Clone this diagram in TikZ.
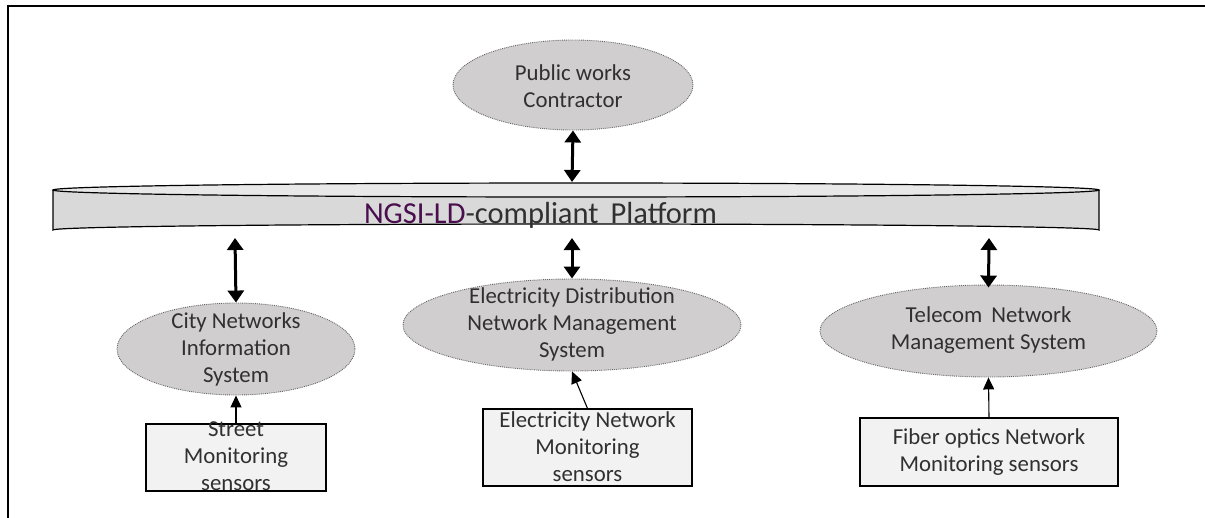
\documentclass[tikz,border=0pt]{standalone}
\usepackage{fontspec}
\setmainfont{Carlito}
\usetikzlibrary{arrows.meta,shapes.geometric}
\definecolor{ngsi}{HTML}{4A0E4E}
\definecolor{txtgray}{HTML}{303030}
\definecolor{ellfill}{HTML}{D0CECE}
\definecolor{boxfill}{HTML}{F2F2F2}
\definecolor{platside}{HTML}{D9D9D9}
\definecolor{plattop}{HTML}{E8E8E8}
\tikzset{
  x=1pt, y=-1pt,
  ellnode/.style={ellipse, fill=ellfill, draw=black!60, densely dotted, line width=0.9pt, inner sep=0pt},
  boxnode/.style={rectangle, fill=boxfill, draw=black, line width=1.1pt, inner sep=0pt},
  txt/.style={align=center, text=txtgray, font=\fontsize{22.8}{27}\selectfont, inner sep=0pt},
  dblarrow/.style={line width=3pt, {Triangle[width=16pt,length=12pt]}-{Triangle[width=16pt,length=12pt]}},
  sglarrow/.style={line width=1.1pt, -{Triangle[width=11pt,length=12pt]}},
}
\begin{document}
\begin{tikzpicture}
\useasboundingbox (0,0) rectangle (1205,517);
% frame
\draw[line width=1.6pt] (1206,6) -- (8,6) -- (8,518);
% platform cylinder
\path[fill=platside, draw=black, line width=1.2pt] (53,190) -- (53,230)
  arc[start angle=180, end angle=360, x radius=523, y radius=6] -- (1099,190);
\draw[fill=plattop, line width=1.2pt] (576,190) ellipse[x radius=523, y radius=7];
\node[anchor=base, inner sep=0pt, text=txtgray, font=\fontsize{30.5}{34}\selectfont] (plat) at (540.5,223)
  {\textcolor{ngsi}{NGSI-LD}-compliant\hspace{0.4em}Platform};
\coordinate (ptop) at (572,182);
\coordinate (pb1) at (235,238);
\coordinate (pb2) at (572,238);
\coordinate (pb3) at (989,238);
% ellipses
\node[ellnode, minimum width=240, minimum height=90] (pw) at (573,85) {};
\node[txt] (pwt) at (573,86) {Public works\\Contractor};
\node[ellnode, minimum width=238, minimum height=92] (city) at (236,349) {};
\node[txt] (cityt) at (236,349) {City Networks\\Information\\System};
\node[ellnode, minimum width=338, minimum height=92] (elec) at (572,325) {};
\node[txt] (elect) at (572,324) {Electricity Distribution\\Network Management\\System};
\node[ellnode, minimum width=337, minimum height=92] (tel) at (988.5,331) {};
\node[txt] (telt) at (988.5,330) {Telecom\hspace{0.4em}Network\\Management System};
% boxes
\node[boxnode, minimum width=180, minimum height=67] (sbox) at (236,457.5) {};
\node[txt] (sboxt) at (236,456) {Street\\Monitoring\\sensors};
\node[boxnode, minimum width=209, minimum height=77] (ebox) at (587.5,447.5) {};
\node[txt] (eboxt) at (587.5,447) {Electricity Network\\Monitoring\\sensors};
\node[boxnode, minimum width=258, minimum height=68] (fbox) at (989,452) {};
\node[txt] (fboxt) at (989,452) {Fiber optics Network\\Monitoring sensors};
% connectors
\draw[dblarrow] (pw.south) -- (ptop);
\draw[dblarrow] (pb1) -- (city.north);
\draw[dblarrow] (pb2) -- (elec.north);
\draw[dblarrow] (pb3) -- ([yshift=-3pt]tel.north);
\draw[sglarrow] (sbox.north) -- (city.south);
\draw[sglarrow] (ebox.north) -- (elec.south);
\draw[sglarrow] (fbox.north) -- (tel.south);
\end{tikzpicture}
\end{document}
